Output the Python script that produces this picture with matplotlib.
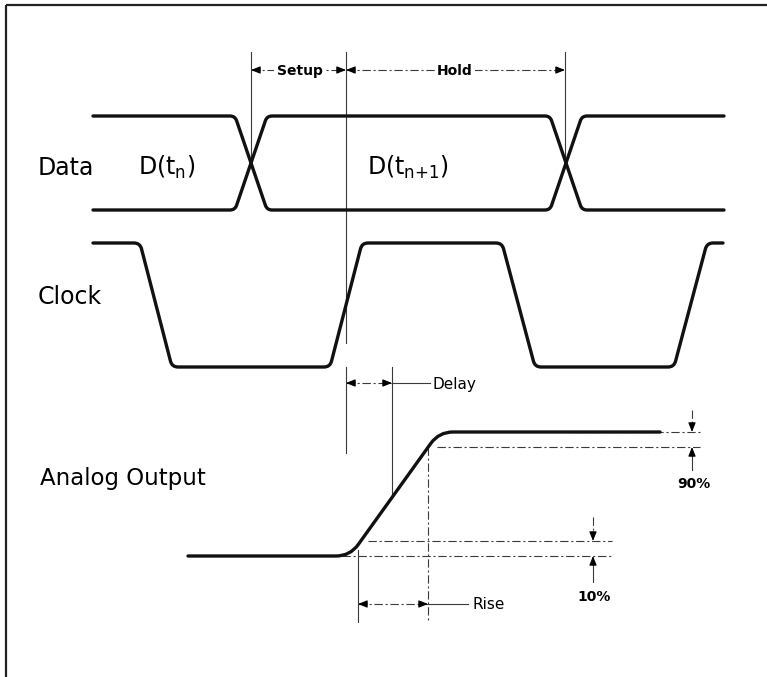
import matplotlib
matplotlib.use("Agg")
import matplotlib.pyplot as plt
import numpy as np
from matplotlib.path import Path
from matplotlib.patches import PathPatch

# Timing diagram of a D/A converter: data, clock and analog output.
# Everything is laid out on a canvas whose units are pixels (y grows down).

W, H = 767, 677

# Data bus: two traces that swap levels at each data edge
data_hi, data_lo = 116, 210
data_start, data_end = 93, 724
data_edges = [251, 566]
data_half = 16            # half-width of a data transition

# Clock waveform
clock_hi, clock_lo = 243, 367
clock_t = [93, 140, 172, 330, 362, 502, 535, 674, 707, 723]
clock_v = [1, 1, 0, 0, 1, 1, 0, 0, 1, 1]

# Analog output step response
out_t = [188, 350, 439, 660]
out_y = [556, 556, 432, 432]
lvl10 = 541               # 10 % level
lvl90 = 447               # 90 % level

# Timing markers
setup_x = [251, 346]
hold_x = [346, 565]
delay_x = [346, 392]
rise_x = [358, 428]

WAVE = "#111111"
THIN = "#3a3a3a"
DASHDOT = (0, (6, 2, 1.5, 2))
plt.rcParams["lines.scale_dashes"] = False
plt.rcParams["font.family"] = "DejaVu Sans"


def rounded_path(xs, ys, r):
    verts = [(xs[0], ys[0])]
    codes = [Path.MOVETO]
    pts = np.column_stack([xs, ys]).astype(float)
    for i in range(1, len(pts) - 1):
        p0, p1, p2 = pts[i - 1], pts[i], pts[i + 1]
        l1 = np.hypot(*(p1 - p0))
        l2 = np.hypot(*(p2 - p1))
        rr = min(r, l1 / 2, l2 / 2)
        a = p1 - (p1 - p0) / l1 * rr
        b = p1 + (p2 - p1) / l2 * rr
        verts += [tuple(a), tuple(p1), tuple(b)]
        codes += [Path.LINETO, Path.CURVE3, Path.CURVE3]
    verts.append((xs[-1], ys[-1]))
    codes.append(Path.LINETO)
    return Path(verts, codes)


def wave(ax, xs, ys, r, lw=2.4):
    ax.add_patch(PathPatch(rounded_path(xs, ys, r), fill=False, lw=lw,
                           edgecolor=WAVE, capstyle="round", joinstyle="round",
                           zorder=3))


def head(ax, x, y, dx, dy):
    # small filled arrow head whose tip sits at (x, y)
    ax.annotate("", xy=(x, y), xytext=(x + dx, y + dy),
                arrowprops=dict(arrowstyle="-|>,head_length=0.55,head_width=0.22",
                                lw=0.8, color="black", shrinkA=0, shrinkB=0),
                zorder=4)


fig = plt.figure(figsize=(W / 100, H / 100), dpi=100)
ax = fig.add_axes([0, 0, 1, 1])
ax.set_xlim(0, W)
ax.set_ylim(H, 0)
ax.axis("off")

# frame
ax.plot([6, W], [5, 5], color="#222222", lw=1.6, solid_capstyle="butt")
ax.plot([6, 6], [5, H], color="#222222", lw=1.6, solid_capstyle="butt")

# data traces
xs = [data_start]
for e in data_edges:
    xs += [e - data_half, e + data_half]
xs.append(data_end)
lv_a = [data_hi, data_hi, data_lo, data_lo, data_hi, data_hi]
lv_b = [data_lo, data_lo, data_hi, data_hi, data_lo, data_lo]
wave(ax, xs, lv_a, 5)
wave(ax, xs, lv_b, 5)

# clock
clk_y = [clock_hi if v else clock_lo for v in clock_v]
wave(ax, clock_t, clk_y, 6)

# analog output
wave(ax, out_t, out_y, 14)

# vertical reference lines
vl = dict(color=THIN, lw=0.8)
ax.plot([setup_x[0]] * 2, [52, 163], **vl)
ax.plot([hold_x[1]] * 2, [52, 163], **vl)
ax.plot([setup_x[1]] * 2, [52, 343], **vl)
ax.plot([delay_x[0]] * 2, [367, 453], **vl)
ax.plot([delay_x[1]] * 2, [367, 497], **vl)
ax.plot([rise_x[0]] * 2, [550, 622], **vl)
ax.plot([rise_x[1]] * 2, [lvl90, 622], color=THIN, lw=0.8, ls=DASHDOT)

# setup / hold
y_sh = 70
ax.plot(setup_x, [y_sh] * 2, color=THIN, lw=0.8, ls=DASHDOT)
ax.plot(hold_x, [y_sh] * 2, color=THIN, lw=0.8, ls=DASHDOT)
head(ax, setup_x[0], y_sh, 9, 0)
head(ax, setup_x[1], y_sh, -9, 0)
head(ax, hold_x[0], y_sh, 9, 0)
head(ax, hold_x[1], y_sh, -9, 0)
lab = dict(fontsize=10, fontweight="bold", ha="center", va="baseline",
           bbox=dict(facecolor="white", edgecolor="none", pad=1.5), zorder=5)
ax.text(sum(setup_x) / 2 + 1, 75, "Setup", **lab)
ax.text(455, 75, "Hold", **lab)

# delay
y_d = 383
ax.plot(delay_x, [y_d] * 2, color=THIN, lw=0.8, ls=DASHDOT)
ax.plot([delay_x[1], 430], [y_d] * 2, color=THIN, lw=0.8)
head(ax, delay_x[0], y_d, 9, 0)
head(ax, delay_x[1], y_d, -9, 0)
ax.text(433, 389, "Delay", fontsize=11, ha="left", va="baseline")

# rise
y_r = 604
ax.plot(rise_x, [y_r] * 2, color=THIN, lw=0.8, ls=DASHDOT)
ax.plot([rise_x[1], 468], [y_r] * 2, color=THIN, lw=0.8)
head(ax, rise_x[0], y_r, 9, 0)
head(ax, rise_x[1], y_r, -9, 0)
ax.text(472, 609, "Rise", fontsize=11, ha="left", va="baseline")

# 10 % band
ax.plot([368, 612], [lvl10] * 2, color=THIN, lw=0.8, ls=DASHDOT)
ax.plot([342, 612], [out_y[0]] * 2, color=THIN, lw=0.8, ls=DASHDOT, zorder=2)
ax.plot([593, 593], [517, 532], color=THIN, lw=0.8, ls=DASHDOT)
head(ax, 593, lvl10, 0, -9)
ax.plot([593, 593], [565, 582], color=THIN, lw=0.8)
head(ax, 593, out_y[0], 0, 9)
ax.text(594, 601, "10%", fontsize=10, fontweight="bold", ha="center", va="baseline")

# 90 % band
ax.plot([575, 700], [out_y[-1]] * 2, color=THIN, lw=0.8, ls=DASHDOT, zorder=2)
ax.plot([437, 700], [lvl90] * 2, color=THIN, lw=0.8, ls=DASHDOT)
ax.plot([692, 692], [410, 423], color=THIN, lw=0.8, ls=DASHDOT)
head(ax, 692, out_y[-1], 0, -9)
ax.plot([692, 692], [456, 470], color=THIN, lw=0.8)
head(ax, 692, lvl90, 0, 9)
ax.text(694, 488, "90%", fontsize=10, fontweight="bold", ha="center", va="baseline")

# signal names
big = dict(fontsize=17, ha="left", va="baseline", color="black")
ax.text(38, 175, "Data", **big)
ax.text(138, 175, r"D(t$_\mathregular{n}$)", **big)
ax.text(367, 175, r"D(t$_\mathregular{n{+}1}$)", **big)
ax.text(38, 304, "Clock", **big)
ax.text(40, 485, "Analog Output", fontsize=16.5, ha="left", va="baseline")

fig.savefig("out.png", dpi=100, facecolor="white")
